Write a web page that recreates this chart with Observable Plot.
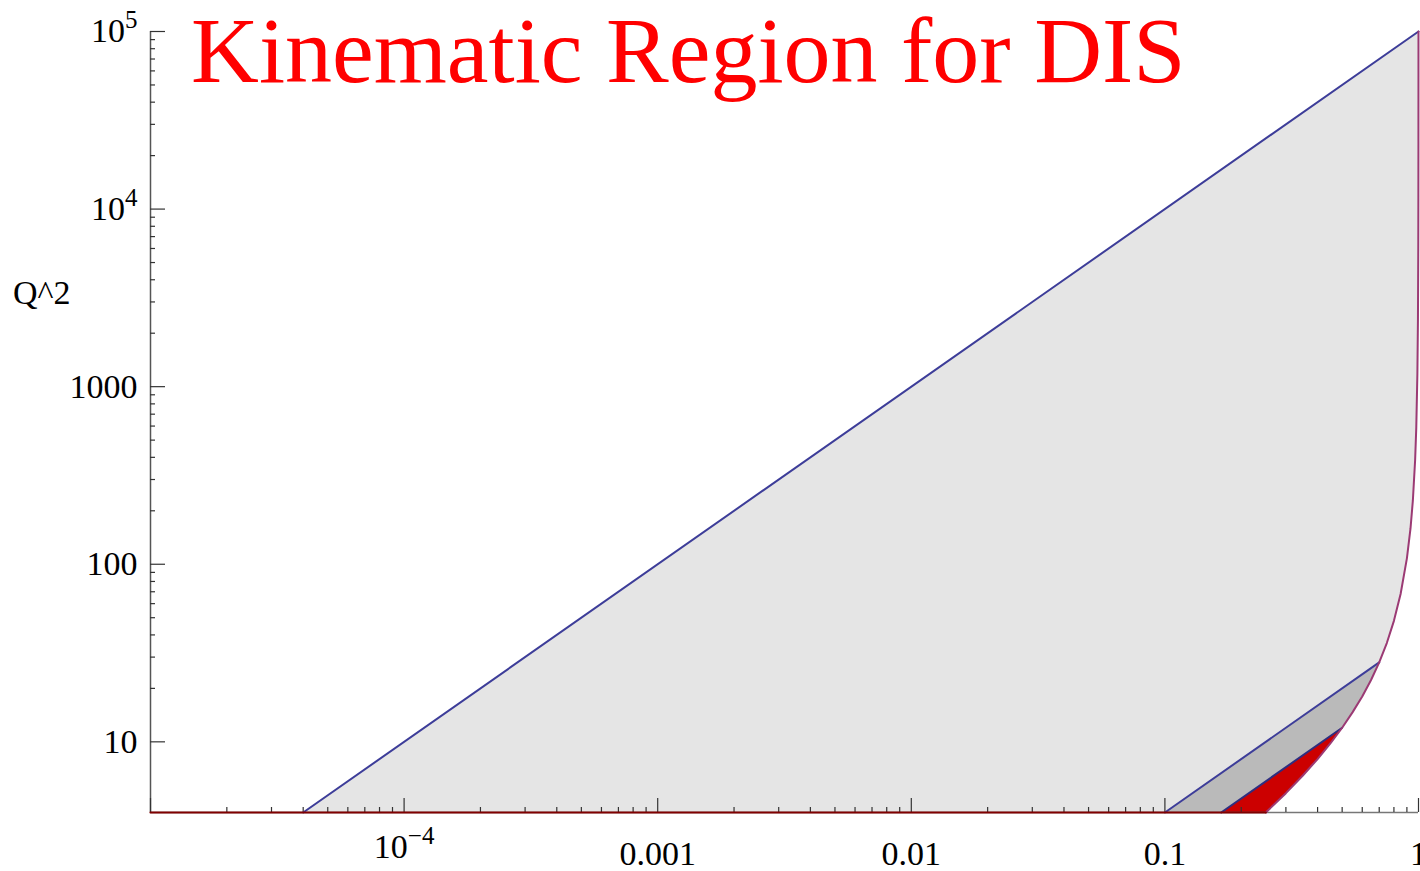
<!DOCTYPE html>
<html>
<head>
<meta charset="utf-8">
<script src="https://cdn.jsdelivr.net/npm/d3@7"></script>
<script src="https://cdn.jsdelivr.net/npm/@observablehq/plot@0.6"></script>
<style>
  html, body { margin: 0; padding: 0; background: #fff; }
  #wrap { position: relative; width: 1420px; height: 871px; overflow: hidden; }
  #title { position: absolute; left: 191px; top: 0px; font-family: "Liberation Serif", "Times New Roman", serif;
           font-size: 94px; line-height: 100px; color: #ff0000; white-space: nowrap; padding-bottom: 6px; }
  #ylab { position: absolute; left: 13px; top: 276px; font-family: "Liberation Serif", "Times New Roman", serif;
          font-size: 34px; line-height: 34px; color: #000; white-space: nowrap; }
  svg { display: block; }
</style>
</head>
<body>
<div id="wrap">
  <div id="chart"></div>
  <div id="title">Kinematic Region for DIS</div>
  <div id="ylab">Q^2</div>
</div>
<script>
// ---- data ----
const xDomain = [1e-5, 1];
const q2Domain = [4, 1e5];

// tick values and labels
const xMajor = [1e-5, 1e-4, 1e-3, 1e-2, 1e-1, 1];
const xMajorLabels = ["", "10^\u22124", "0.001", "0.01", "0.1", "1"];
const xDecades = [1e-5, 1e-4, 1e-3, 1e-2, 1e-1];
const yMajor = [10, 100, 1000, 1e4, 1e5];
const yMajorLabels = ["10", "100", "1000", "10^4", "10^5"];
const yDecades = [10, 100, 1000, 1e4];
const minorMultipliers = [2, 3, 4, 5, 6, 7, 8, 9];

// kinematic limit line Q^2 = s x (upper-left boundary)
const upperX = [4e-5, 1];
const upperQ2 = [4, 1e5];
// second (dark gray) boundary line
const midX = [0.1, 0.7];
const midQ2 = [4, 28];
// third (red) boundary line
const lowX = [0.1667, 0.5];
const lowQ2 = [4, 12];
// right-hand boundary curve (W^2 cut)
const curveX  = [0.25, 0.3, 0.35, 0.4, 0.45, 0.5, 0.55, 0.6, 0.65, 0.7, 0.75, 0.8, 0.85, 0.9, 0.93, 0.95, 0.97, 0.98, 0.99, 0.995, 0.998, 0.999, 0.9995, 0.9998, 0.99988];
const curveQ2 = [4.0, 5.14, 6.46, 8.0, 9.82, 12.0, 14.7, 18.0, 22.3, 28.0, 36.0, 48.0, 68.0, 108, 159, 228, 388, 588, 1188, 2388, 5988, 11988, 23988, 59988, 100000];
// bottom cut Q^2 = 4 drawn from left edge to the curve
const bottomX = [1e-5, 0.25];
const bottomQ2 = [4, 4];

// ---- build tables ----
const pts = (xs, ys) => xs.map((x, i) => ({x, y: ys[i]}));
const curvePts = pts(curveX, curveQ2);
const curveDesc = curvePts.slice().reverse();
const lightPoly = [...pts(upperX, upperQ2), ...curveDesc];
const darkPoly = [...pts(midX, midQ2), ...curveDesc.filter(p => p.x <= midX[1] + 1e-9)];
const redPoly = [...pts(lowX, lowQ2), ...curveDesc.filter(p => p.x <= lowX[1] + 1e-9)];

const xMinor = xDecades.flatMap(d => minorMultipliers.map(m => d * m));
const yMinor = yDecades.flatMap(d => minorMultipliers.map(m => d * m));
const xLabelMap = new Map(xMajor.map((v, i) => [v, xMajorLabels[i]]));
const yLabelMap = new Map(yMajor.map((v, i) => [v, yMajorLabels[i]]));

// ---- layout ----
const W = 1420, H = 871;
const mL = 150, mR = 2, mT = 31, mB = 59;
const frameW = W - mL - mR, frameH = H - mT - mB;

const blue = "#3d3d99", curveCol = "#9b3a74", axisCol = "#555", tickCol = "#333";

const plot = Plot.plot({
  width: W, height: H,
  marginLeft: mL, marginRight: mR, marginTop: mT, marginBottom: mB,
  style: {fontFamily: '"Liberation Serif", "Times New Roman", serif', background: "transparent", color: "#000"},
  x: {type: "log", domain: xDomain, axis: null},
  y: {type: "log", domain: q2Domain, axis: null},
  marks: [
    Plot.line(lightPoly, {x: "x", y: "y", fill: "#e5e5e5", stroke: "none"}),
    Plot.line(darkPoly, {x: "x", y: "y", fill: "#bababa", stroke: "none"}),
    Plot.line(redPoly, {x: "x", y: "y", fill: "#cc0000", stroke: "none"}),
    // axes lines
    Plot.ruleX([xDomain[0]], {x: d => d, stroke: axisCol, strokeWidth: 1.5}),
    Plot.ruleY([q2Domain[0]], {y: d => d, stroke: "#777", strokeWidth: 1.5}),
    // ticks (inward)
    Plot.ruleX(xMajor, {x: d => d, insetTop: frameH - 14, stroke: tickCol, strokeWidth: 1.2}),
    Plot.ruleX(xMinor, {x: d => d, insetTop: frameH - 5, stroke: tickCol, strokeWidth: 1.2}),
    Plot.ruleY(yMajor, {y: d => d, insetRight: frameW - 15, stroke: tickCol, strokeWidth: 1.2}),
    Plot.ruleY(yMinor, {y: d => d, insetRight: frameW - 5, stroke: tickCol, strokeWidth: 1.2}),
    // boundary lines
    Plot.line(pts(upperX, upperQ2), {x: "x", y: "y", stroke: blue, strokeWidth: 2}),
    Plot.line(pts(midX, midQ2), {x: "x", y: "y", stroke: blue, strokeWidth: 2}),
    Plot.line(pts(lowX, lowQ2), {x: "x", y: "y", stroke: "#2e2e80", strokeWidth: 2}),
    Plot.line(curvePts, {x: "x", y: "y", stroke: curveCol, strokeWidth: 2}),
    Plot.line(pts(bottomX, bottomQ2), {x: "x", y: "y", stroke: "#800000", strokeWidth: 2.2}),
    // tick labels
    Plot.axisX({ticks: xMajor, tickFormat: d => xLabelMap.get(d), tickSize: 0, tickPadding: 28, fontSize: 34, label: null}),
    Plot.axisY({ticks: yMajor, tickFormat: d => yLabelMap.get(d), tickSize: 0, tickPadding: 13, fontSize: 34, label: null})
  ]
});

// superscripts in tick labels
const ns = "http://www.w3.org/2000/svg";
plot.querySelectorAll('g[aria-label="x-axis tick label"] text, g[aria-label="y-axis tick label"] text').forEach(t => {
  const s = t.textContent;
  if (!s.includes("^")) return;
  const [base, exp] = s.split("^");
  const isX = t.parentNode.getAttribute("aria-label").startsWith("x");
  t.textContent = "";
  const b = document.createElementNS(ns, "tspan");
  b.textContent = base;
  if (isX) b.setAttribute("dy", "-7");
  const e = document.createElementNS(ns, "tspan");
  e.textContent = exp;
  e.setAttribute("dy", "-14");
  e.setAttribute("font-size", "25");
  t.append(b, e);
});

document.getElementById("chart").append(plot);
</script>
</body>
</html>
